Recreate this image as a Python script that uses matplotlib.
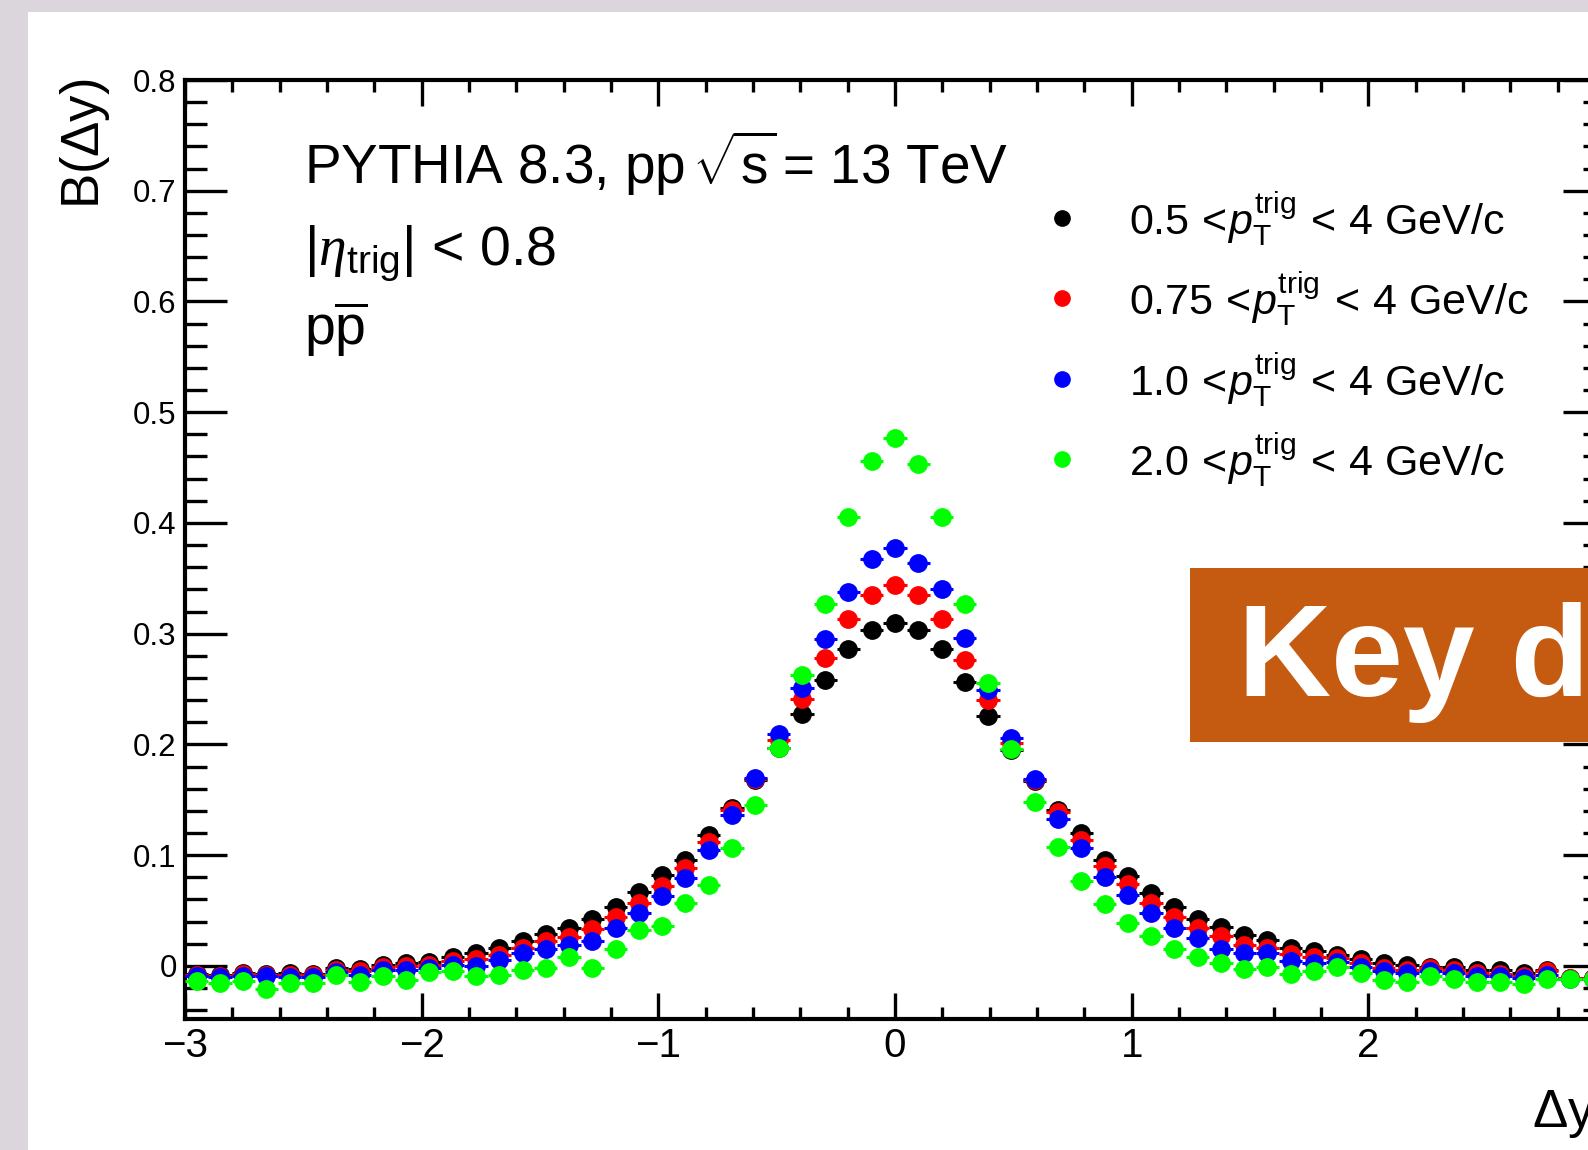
import matplotlib
matplotlib.use("Agg")
import matplotlib.pyplot as plt
from matplotlib.patches import Rectangle
from matplotlib.lines import Line2D
from matplotlib.ticker import MultipleLocator, FuncFormatter
import numpy as np

plt.rcParams['font.family'] = ['Liberation Sans', 'DejaVu Sans']
plt.rcParams['mathtext.fontset'] = 'custom'
plt.rcParams['mathtext.rm'] = 'Liberation Sans'
plt.rcParams['mathtext.it'] = 'Liberation Sans:italic'
plt.rcParams['mathtext.bf'] = 'Liberation Sans:bold'
plt.rcParams['mathtext.sf'] = 'Liberation Serif:italic'

# 61 bins in dy between -3 and 3
bin_edges = np.linspace(-3, 3, 62)
bin_centers = 0.5 * (bin_edges[1:] + bin_edges[:-1])
bin_half = 0.5 * (bin_edges[1] - bin_edges[0])

# balance function B(dy), one array per trigger pT range
b_pt05 = [-0.0075, -0.0082, -0.0067, -0.0075, -0.0067, -0.0072, -0.0021, -0.0030,
          0.0009, 0.0024, 0.0039, 0.0084, 0.0114, 0.0159, 0.0220, 0.0285,
          0.034, 0.042, 0.053, 0.067, 0.082, 0.096, 0.118, 0.143,
          0.168, 0.197, 0.227, 0.258, 0.286, 0.303, 0.310, 0.303,
          0.286, 0.256, 0.226, 0.195, 0.167, 0.141, 0.120, 0.096,
          0.081, 0.066, 0.053, 0.042, 0.035, 0.028, 0.0235, 0.016,
          0.013, 0.010, 0.0063, 0.0024, 0.0009, -0.0006, -0.0012, -0.0036,
          -0.0042, -0.0066, -0.0036, -0.011, -0.011]
b_pt075 = [-0.0087, -0.0090, -0.0076, -0.0087, -0.0082, -0.0087, -0.0036, -0.0051,
           -0.0012, 0.0000, 0.0009, 0.0048, 0.0060, 0.0099, 0.0159, 0.022,
           0.026, 0.033, 0.044, 0.057, 0.072, 0.088, 0.112, 0.141,
           0.169, 0.204, 0.241, 0.278, 0.313, 0.335, 0.344, 0.335,
           0.313, 0.276, 0.240, 0.201, 0.168, 0.139, 0.114, 0.090,
           0.074, 0.057, 0.044, 0.034, 0.027, 0.019, 0.016, 0.011,
           0.008, 0.007, 0.0024, -0.0020, -0.0036, -0.0020, -0.0042, -0.0066,
           -0.0072, -0.0090, -0.0051, -0.011, -0.011]
b_pt10 = [-0.0096, -0.0102, -0.0096, -0.0096, -0.0102, -0.0102, -0.0060, -0.0081,
          -0.0036, -0.0036, -0.0021, 0.0009, 0.0000, 0.0054, 0.0114, 0.0155,
          0.019, 0.022, 0.034, 0.048, 0.063, 0.079, 0.105, 0.136,
          0.170, 0.209, 0.251, 0.295, 0.338, 0.367, 0.377, 0.364,
          0.340, 0.296, 0.249, 0.206, 0.169, 0.133, 0.106, 0.080,
          0.064, 0.048, 0.034, 0.025, 0.015, 0.0114, 0.0114, 0.0048,
          0.0024, 0.0039, -0.0006, -0.0051, -0.0066, -0.0051, -0.0066, -0.0090,
          -0.0096, -0.0110, -0.0081, -0.012, -0.012]
b_pt20 = [-0.0135, -0.0157, -0.0135, -0.0208, -0.0157, -0.0157, -0.0087, -0.0150,
          -0.0096, -0.0130, -0.0060, -0.0051, -0.0096, -0.0081, -0.0036, -0.0021,
          0.008, -0.002, 0.015, 0.032, 0.036, 0.057, 0.073, 0.106,
          0.145, 0.197, 0.263, 0.327, 0.405, 0.456, 0.477, 0.453,
          0.405, 0.327, 0.255, 0.196, 0.148, 0.107, 0.077, 0.056,
          0.0385, 0.027, 0.015, 0.008, 0.003, -0.003, -0.0006, -0.0072,
          -0.0051, -0.0006, -0.0066, -0.0126, -0.0147, -0.0090, -0.0117, -0.0150,
          -0.0150, -0.0162, -0.0120, -0.012, -0.012]

series = [b_pt05, b_pt075, b_pt10, b_pt20]
pt_low = ["0.5", "0.75", "1.0", "2.0"]
colors = ["#000000", "#ff0000", "#0000ff", "#00ff00"]

W, H = 1588, 1150


def fx(x):
    return x / W


def fy(y):
    return 1 - y / H


def xlabel_fmt(v, pos):
    # the tick at the far right edge sits outside the visible canvas
    if v > 2.5:
        return ""
    return str(int(round(v))).replace("-", "\u2212")


fig = plt.figure(figsize=(W / 100, H / 100), dpi=100, facecolor="#dad6dc")
fig.add_artist(Rectangle((fx(28), 0), 1, fy(12), transform=fig.transFigure,
                         facecolor="white", edgecolor="none", zorder=-5))

ax = fig.add_axes([fx(185), fy(1019), (1605 - 185) / W, (1019 - 80) / H])
ax.set_facecolor("white")

for i, (vals, c) in enumerate(zip(series, colors)):
    ax.errorbar(bin_centers, vals, xerr=bin_half, fmt="o", color=c, mec=c,
                ms=12.5, elinewidth=2.2, capsize=0, zorder=3 + i)

ax.set_xlim(-3, 3)
ax.set_ylim(-0.048, 0.8)
ax.xaxis.set_major_locator(MultipleLocator(1))
ax.xaxis.set_minor_locator(MultipleLocator(0.2))
ax.yaxis.set_major_locator(MultipleLocator(0.1))
ax.yaxis.set_minor_locator(MultipleLocator(0.02))
ax.xaxis.set_major_formatter(FuncFormatter(xlabel_fmt))
ax.yaxis.set_major_formatter(FuncFormatter(
    lambda v, p: "0" if abs(v) < 1e-9 else f"{v:.1f}"))

for s in ax.spines.values():
    s.set_linewidth(3)
ax.tick_params(which="both", direction="in", top=True, right=True, width=2.4)
ax.tick_params(axis="x", which="major", length=19, labelsize=29, pad=6)
ax.tick_params(axis="x", which="minor", length=8.5)
ax.tick_params(axis="y", which="major", length=30, labelsize=22.5, pad=6)
ax.tick_params(axis="y", which="minor", length=15.5)

# axis titles
fig.text(fx(99), fy(78), r"B($\Delta$y)", fontsize=38, rotation=90,
         rotation_mode="anchor", ha="right", va="baseline")
fig.text(fx(1532), fy(1127), r"$\Delta$y", fontsize=38, ha="left", va="baseline")

# labels
fig.text(fx(304), fy(184), r"PYTHIA 8.3, pp $\!\sqrt{\mathrm{s}}\!$ = 13 TeV",
         fontsize=39.5, va="baseline")
fig.text(fx(304), fy(265), r"|$\mathsf{\eta}_{\mathrm{trig}}$| < 0.8",
         fontsize=40, va="baseline")
fig.text(fx(304), fy(345), r"p$\overline{\mathrm{p}}$", fontsize=40, va="baseline")

# legend
row_y = [218, 298, 379, 459]
for lo, c, ry in zip(pt_low, colors, row_y):
    fig.add_artist(Line2D([fx(1062)], [fy(ry)], transform=fig.transFigure,
                          marker="o", ms=11, color=c, linestyle="none"))
    fig.text(fx(1129), fy(ry + 17),
             lo + r"$\,<\!p_{\mathrm{T}}^{\mathrm{trig}}\,<\!$ 4 GeV/c",
             fontsize=31, va="baseline")

# banner
fig.add_artist(Rectangle((fx(1190), fy(742)), 0.5, (742 - 568) / H,
                         transform=fig.transFigure, facecolor="#c55a11",
                         edgecolor="none", zorder=10))
fig.text(fx(1238), fy(696), "Key d", fontsize=93, fontweight="bold",
         color="white", va="baseline", zorder=11)

fig.savefig("out.png", dpi=100, facecolor=fig.get_facecolor())
